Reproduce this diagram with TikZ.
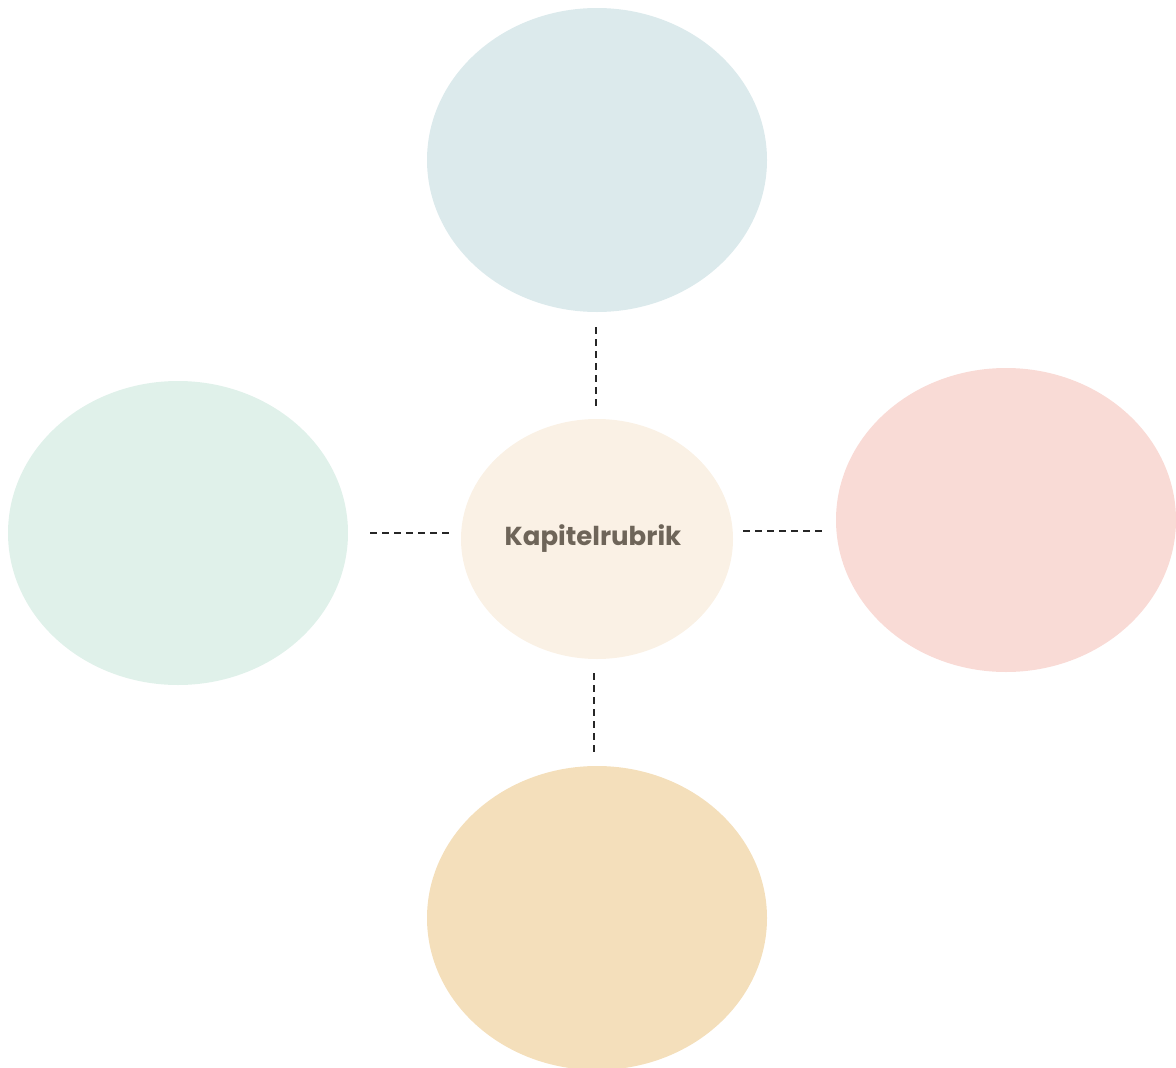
\documentclass[tikz,border=0pt]{standalone}
\usepackage{fontspec}
\setmainfont{Poppins}
\usetikzlibrary{shapes.geometric}
\definecolor{topblue}{HTML}{DCEAEC}
\definecolor{leftgreen}{HTML}{E0F1EA}
\definecolor{rightrose}{HTML}{F9DBD6}
\definecolor{bottomsand}{HTML}{F4DFBB}
\definecolor{hubcream}{HTML}{FAF1E5}
\definecolor{hubtext}{HTML}{6E6559}
\begin{document}
\begin{tikzpicture}[x=1pt, y=-1pt, line cap=butt,
	bubble/.style={ellipse, inner sep=0pt, minimum width=340pt, minimum height=304pt},
	link/.style={draw=black!85, line width=2.4pt, dash pattern=on 7pt off 5pt}]
		\useasboundingbox (0,0) rectangle (1176,1068);
		% centre and four bubbles
		\node[ellipse, inner sep=0pt, minimum width=272pt, minimum height=240pt, fill=hubcream, font=\fontsize{26}{30}\selectfont\bfseries, text=hubtext] (hub) at (597,539) {\hspace*{-8pt}Kapitelrubrik};
		\node[bubble, fill=topblue] (top) at (597,160) {};
		\node[bubble, fill=leftgreen] (left) at (178,533) {};
		\node[bubble, fill=rightrose] (right) at (1006,520) {};
		\node[bubble, fill=bottomsand] (bottom) at (597,918) {};
		% dashed links
		\draw[link, shorten <=15pt, shorten >=11pt] ([xshift=-1pt]top.south) -- ([xshift=-1pt]top.south |- hub.north);
		\draw[link, shorten <=22pt, shorten >=10pt] (left.east) -- (left.east -| hub.west);
		\draw[link, shorten <=10pt, shorten >=10pt] ([yshift=8pt]hub.east) -- ([yshift=8pt]hub.east -| right.west);
		\draw[link, shorten <=14pt, shorten >=13pt] ([xshift=-3pt]hub.south) -- ([xshift=-3pt]hub.south |- bottom.north);
\end{tikzpicture}
\end{document}
